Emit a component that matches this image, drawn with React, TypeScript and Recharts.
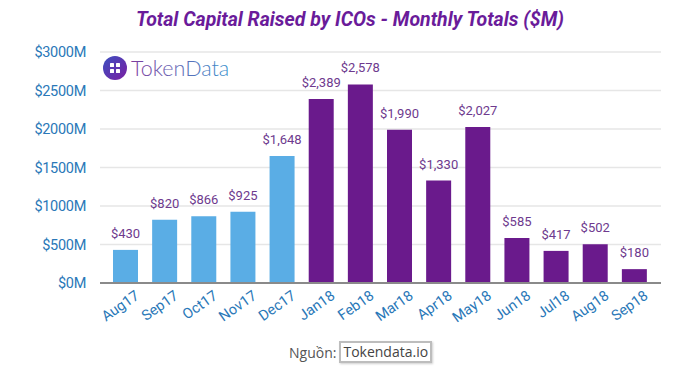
import React from "react";
import { BarChart, Bar, XAxis, YAxis, CartesianGrid, LabelList, Cell } from "recharts";

const months = ["Aug17", "Sep17", "Oct17", "Nov17", "Dec17", "Jan18", "Feb18", "Mar18", "Apr18", "May18", "Jun18", "Jul18", "Aug18", "Sep18"];
const totals = [430, 820, 866, 925, 1648, 2389, 2578, 1990, 1330, 2027, 585, 417, 502, 180];
const yTicks = [0, 500, 1000, 1500, 2000, 2500, 3000];
const year2018Start = 5;

const data = months.map((m, i) => ({ month: m, total: totals[i] }));

const BLUE = "#5AADE5";
const PURPLE = "#6A1A8C";
const TICK = "#2A78B8";

const XTick = (props: any) => {
  const { x, y, payload } = props;
  return (
    <g transform={`translate(${x},${y})`}>
      <text
        x={8}
        y={14}
        transform="rotate(-35)"
        textAnchor="end"
        fill={TICK}
        fontSize={14.5}
        fontFamily="Roboto, sans-serif"
      >
        {payload.value}
      </text>
    </g>
  );
};

export default function App() {
  return (
    <div style={{ position: "absolute", left: 0, top: 0, width: 700, height: 374, background: "#fff", fontFamily: "Roboto, sans-serif" }}>
      <div
        style={{
          position: "absolute",
          left: 0,
          top: 8,
          width: 700,
          textAlign: "center",
          fontSize: 19.5,
          fontWeight: 700,
          fontStyle: "italic",
          color: "#6A1B9A",
        }}
      >
        Total Capital Raised by ICOs - Monthly Totals ($M)
      </div>
      <BarChart width={700} height={374} data={data} margin={{ top: 52, right: 39, bottom: 31, left: 0 }}>
        <CartesianGrid vertical={false} stroke="#e6e6e6" strokeWidth={1.5} />
        <XAxis
          dataKey="month"
          height={60}
          padding={{ left: 6, right: 7 }}
          tick={<XTick />}
          tickLine={false}
          axisLine={{ stroke: "#8a8a8a", strokeWidth: 2 }}
          interval={0}
        />
        <YAxis
          width={100}
          domain={[0, 3000]}
          ticks={yTicks}
          tickFormatter={(v: number) => `$${v}M`}
          tick={{ fill: TICK, fontSize: 14.5, fontFamily: "Roboto, sans-serif", letterSpacing: -0.3 }}
          tickLine={false}
          axisLine={false}
          tickMargin={8}
        />
        <Bar dataKey="total" barSize={25} isAnimationActive={false}>
          {data.map((d, i) => (
            <Cell key={d.month} fill={i < year2018Start ? BLUE : PURPLE} />
          ))}
          <LabelList
            dataKey="total"
            position="top"
            offset={12}
            formatter={(v: any) => `$${Number(v).toLocaleString("en-US")}`}
            fill="#6E3A8E"
            fontSize={13}
            fontFamily="Roboto, sans-serif"
          />
        </Bar>
      </BarChart>
      <svg style={{ position: "absolute", left: 100, top: 54 }} width={140} height={30}>
        <defs>
          <linearGradient id="logoCircle" x1="0" y1="0" x2="1" y2="1">
            <stop offset="0" stopColor="#3B4FC0" />
            <stop offset="1" stopColor="#7B1FA2" />
          </linearGradient>
          <linearGradient id="logoText" x1="0" y1="0" x2="1" y2="0">
            <stop offset="0" stopColor="#7D3C9E" />
            <stop offset="0.5" stopColor="#5E6AB6" />
            <stop offset="1" stopColor="#3A90CC" />
          </linearGradient>
        </defs>
        <circle cx={15} cy={14} r={12} fill="url(#logoCircle)" />
        <rect x={10} y={9} width={4} height={4} fill="#fff" rx={0.6} />
        <rect x={16} y={9} width={4} height={4} fill="#fff" rx={0.6} />
        <rect x={10} y={15} width={4} height={4} fill="#fff" rx={0.6} />
        <rect x={16} y={15} width={4} height={4} fill="#fff" rx={0.6} />
        <text x={31} y={22} fontSize={21.5} fontFamily="Lato, sans-serif" fontWeight={300} fill="url(#logoText)">
          TokenData
        </text>
      </svg>
      <div
        style={{
          position: "absolute",
          left: 289,
          top: 341,
          fontSize: 14,
          color: "#555",
          fontFamily: "'Open Sans', 'Noto Sans', sans-serif",
          display: "flex",
          alignItems: "center",
        }}
      >
        <span>Nguồn:</span>
        <span
          style={{
            marginLeft: 3,
            border: "2px solid #bdbdbd",
            boxShadow: "1px 1px 2px #cfcfcf",
            padding: "0 2px",
            lineHeight: "18px",
            color: "#444",
          }}
        >
          Tokendata.io
        </span>
      </div>
    </div>
  );
}
